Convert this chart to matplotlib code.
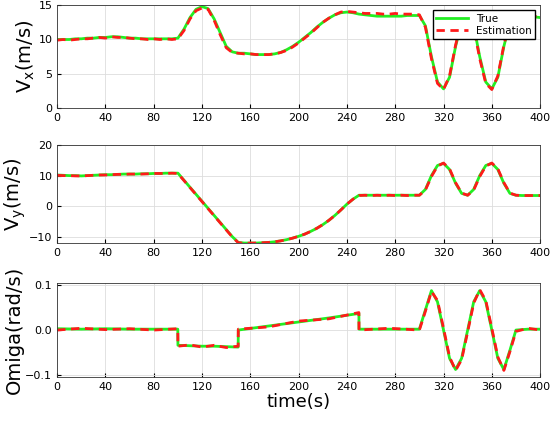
import numpy as np
import matplotlib
matplotlib.use("Agg")
import matplotlib.pyplot as plt

t = list(range(0, 401, 5))
vx_true = [10,10,10,10.1,10.1,10.2,10.2,10.3,10.3,10.4,10.4,10.3,10.2,10.2,10.1,10.1,10.1,10.1,10.1,10.1,
           10.2,11.5,13.2,14.4,14.8,14.5,13,11,9,8.2,8,8,7.9,7.8,7.8,7.8,7.9,8.1,8.5,9.0,
           9.6,10.3,11,11.8,12.5,13.1,13.6,13.9,14,13.9,13.7,13.6,13.5,13.4,13.4,13.4,13.4,13.4,13.5,13.5,
           13.5,12,7.5,3.8,2.8,4.5,9,12.5,13.5,12,7.5,3.8,2.8,4.5,9,12.5,13.5,13.5,13.4,13.3,13.2]
vx_est = [9.9,10,9.9,10,10.1,10.1,10.2,10.3,10.2,10.4,10.3,10.3,10.2,10.1,10.1,10.0,10.1,10.0,10.1,10.0,
          10.1,11.3,13.0,14.2,14.6,14.4,12.8,10.7,8.8,8.1,8.0,7.9,7.9,7.8,7.8,7.8,7.9,8.1,8.4,8.9,
          9.5,10.2,10.9,11.7,12.5,13.1,13.6,14.0,14.1,14.0,13.9,13.8,13.8,13.8,13.7,13.7,13.8,13.7,13.7,13.7,
          13.6,11.8,7.2,3.6,2.7,4.7,9.2,12.6,13.6,11.8,7.2,3.6,2.7,4.7,9.2,12.6,13.6,13.6,13.5,13.4,13.3]
vy_true = [10.2,10.1,10,10,9.9,10,10.1,10.2,10.3,10.3,10.4,10.5,10.5,10.5,10.6,10.6,10.7,10.7,10.8,10.8,
           10.8,8.5,6.2,3.9,1.6,-0.7,-3,-5.3,-7.6,-9.9,-11.8,-12,-12,-12,-11.9,-11.8,-11.6,-11.3,-10.9,-10.4,
           -9.8,-9.1,-8.2,-7.2,-6,-4.6,-3,-1.2,0.7,2.3,3.6,3.6,3.6,3.6,3.6,3.6,3.6,3.6,3.6,3.6,
           3.6,5.5,10,13.3,14,12,7.5,4.2,3.6,5.5,10,13.3,14,12,7.5,4.2,3.6,3.5,3.5,3.5,3.5]
vy_est = [10.1,10.0,10.0,9.9,9.9,10,10.1,10.2,10.2,10.3,10.4,10.4,10.5,10.5,10.5,10.6,10.7,10.7,10.7,10.8,
          10.7,8.4,6.1,3.8,1.5,-0.8,-3.1,-5.4,-7.7,-10.0,-11.9,-12.1,-12,-12,-11.9,-11.8,-11.6,-11.3,-10.9,-10.4,
          -9.8,-9.1,-8.2,-7.2,-6,-4.6,-3,-1.2,0.7,2.3,3.5,3.6,3.5,3.6,3.5,3.6,3.5,3.6,3.5,3.6,
          3.6,5.3,9.7,13.1,14.1,12.2,7.7,4.3,3.6,5.3,9.7,13.1,14.1,12.2,7.7,4.3,3.6,3.5,3.5,3.5,3.5]
tw = [0,20,40,60,80,99.9,100,110,120,130,140,149.9,150,175,200,225,249.9,250,275,300,305,310,315,320,325,330,335,340,345,350,355,360,365,370,375,380,390,400]
w_true = [0.003,0.002,0.003,0.002,0.002,0.002,-0.034,-0.035,-0.036,-0.036,-0.037,-0.038,0.0,0.009,0.018,0.027,0.037,0.002,0.002,0.002,
          0.045,0.088,0.063,0.0,-0.063,-0.088,-0.063,0.0,0.063,0.088,0.063,0.0,-0.063,-0.088,-0.045,0.0,0.002,0.002]
w_est = [0.0,0.004,0.001,0.003,0.0,0.003,-0.036,-0.033,-0.038,-0.034,-0.039,-0.036,0.002,0.007,0.02,0.025,0.039,0.0,0.004,0.0,
         0.042,0.086,0.066,0.004,-0.06,-0.09,-0.066,-0.004,0.06,0.09,0.066,0.004,-0.06,-0.09,-0.048,-0.003,0.004,0.0]

green = '#22ee22'; red = '#ff1a1a'
fig = plt.figure(figsize=(5.5, 4.34), dpi=100)
pos = [(0.104, 0.751, 0.878, 0.237), (0.104, 0.44, 0.878, 0.226), (0.104, 0.131, 0.878, 0.217)]
data = [(t, vx_true, vx_est, (0, 15), [0, 5, 10, 15], 'V$_\\mathregular{x}$(m/s)'),
        (t, vy_true, vy_est, (-12, 20), [-10, 0, 10, 20], 'V$_\\mathregular{y}$(m/s)'),
        (tw, w_true, w_est, (-0.105, 0.105), [-0.1, 0, 0.1], 'Omiga(rad/s)')]
for i, (p, (x, a, b, yl, yt, lab)) in enumerate(zip(pos, data)):
    ax = fig.add_axes(p)
    ax.plot(x, a, color=green, lw=2, label='True')
    ax.plot(x, b, color=red, lw=2, ls='--', dashes=(3, 2), label='Estimation')
    ax.set_xlim(0, 400); ax.set_ylim(*yl)
    ax.set_xticks(range(0, 401, 40)); ax.set_yticks(yt)
    ax.grid(True, color='#dddddd', lw=0.6)
    ax.tick_params(labelsize=8, direction='in', length=3)
    ax.set_ylabel(lab, fontsize=14, labelpad=1)
    for s in ax.spines.values():
        s.set_color('#333333'); s.set_linewidth(0.6)
    if i == 0:
        ax.legend(loc='upper right', fontsize=7.5, handlelength=3, borderpad=0.3,
                  labelspacing=0.2, fancybox=False, edgecolor='black', framealpha=1)
    if i == 2:
        ax.set_xlabel('time(s)', fontsize=13, labelpad=1)
fig.savefig('out.png', dpi=100)
